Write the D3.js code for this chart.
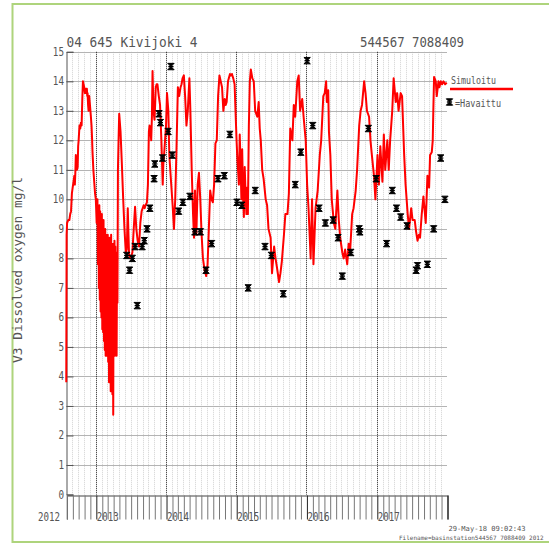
<!DOCTYPE html>
<html>
<head>
<meta charset="utf-8">
<script src="https://cdn.jsdelivr.net/npm/d3@7"></script>
<style>
  html, body { margin: 0; padding: 0; background: #fff; }
  svg { display: block; }
  text { font-family: "DejaVu Sans Mono", "Liberation Mono", monospace; fill: #555; }
</style>
</head>
<body>
<svg id="chart" width="549" height="544"></svg>
<script>
// Station header
const stationName = "04 645 Kivijoki 4";
const stationCoords = "544567 7088409";
const yTitle = "V3 Dissolved oxygen mg/l";
const stampLine = "29-May-18 09:02:43";
const fileLine = "Filename=basinstation544567 7088409 2012";
const simLabel = "Simuloitu";
const obsLabel = "=Havaittu";

// Axis ticks
const yTicks = [0,1,2,3,4,5,6,7,8,9,10,11,12,13,14,15];
const yearLabels = ["2012","2013","2014","2015","2016","2017"];

// Simulated dissolved oxygen, autumn 2012 (decimal year, mg/l)
const sim2012Year = [
  2012.580,2012.585,2012.592,2012.608,2012.624,2012.636,2012.648,2012.660,2012.671,2012.683,
  2012.695,2012.702,2012.709,2012.716,2012.723,2012.732,2012.742,2012.749,2012.756,2012.768,
  2012.779,2012.788,2012.798,2012.808,2012.817,2012.826,2012.835,2012.845,2012.852,2012.859,
  2012.866,2012.873,2012.878,2012.883,2012.890,2012.897,2012.902,2012.906,2012.913,2012.920,
  2012.930,2012.939,2012.946,2012.953,2012.965,2012.977,2012.989,2013.000,2013.012
];
const sim2012DO = [
  3.8,8.8,9.2,9.3,9.3,9.5,9.6,10.2,10.4,10.6,
  10.8,10.5,10.9,11.5,11.3,11.0,11.1,11.8,12.0,12.5,
  12.4,12.6,12.5,13.4,14.0,13.9,13.8,13.6,13.7,13.75,
  13.6,13.75,13.5,13.6,13.2,13.0,13.3,13.5,13.3,13.1,
  12.8,12.5,12.1,11.6,11.0,10.6,10.2,10.0,9.2
];

// Winter 2013, strongly fluctuating period
const simWinterYear = [
  2013.023,2013.030,2013.037,2013.043,2013.050,2013.056,2013.062,2013.068,2013.074,2013.080,
  2013.086,2013.092,2013.098,2013.104,2013.110,2013.116,2013.122,2013.128,2013.134,2013.140,
  2013.146,2013.152,2013.158,2013.164,2013.170,2013.176,2013.182,2013.188,2013.194,2013.200,
  2013.206,2013.212,2013.218,2013.224,2013.230,2013.236,2013.242,2013.248,2013.254,2013.260,
  2013.266,2013.272,2013.278,2013.284,2013.290,2013.296,2013.302,2013.308
];
const simWinterDO = [
  10.0,7.8,9.7,7.0,9.8,6.6,9.6,6.2,9.3,6.0,
  9.5,5.6,9.0,5.5,9.3,5.2,8.9,4.9,9.0,4.7,
  8.8,4.7,8.6,5.5,8.8,4.5,8.5,3.8,8.7,4.2,
  8.3,3.5,8.8,5.0,8.5,3.4,8.0,2.7,8.5,4.8,
  8.6,4.7,8.4,4.9,8.2,4.7,8.0,6.5
];

// Spring 2013 - end of 2014
const sim2014Year = [
  2013.315,2013.324,2013.333,2013.352,2013.371,2013.390,2013.408,2013.427,2013.441,2013.455,
  2013.465,2013.474,2013.493,2013.507,2013.521,2013.540,2013.559,2013.577,2013.596,2013.615,
  2013.634,2013.653,2013.667,2013.681,2013.695,2013.709,2013.728,2013.742,2013.756,2013.765,
  2013.775,2013.789,2013.799,2013.808,2013.822,2013.836,2013.845,2013.854,2013.866,2013.878,
  2013.897,2013.915,2013.934,2013.953,2013.962,2013.972,2013.986,2014.000,2014.014,2014.033,
  2014.047,2014.066,2014.080,2014.094,2014.113,2014.131,2014.150,2014.169,2014.188,2014.207,
  2014.221,2014.235,2014.254,2014.272,2014.291,2014.310,2014.333,2014.347,2014.366,2014.385,
  2014.399,2014.413,2014.432,2014.451,2014.469,2014.488,2014.507,2014.526,2014.549,2014.573,
  2014.592,2014.610,2014.629,2014.648,2014.667,2014.685,2014.704,2014.723,2014.742,2014.761,
  2014.779,2014.798,2014.817,2014.836,2014.850,2014.864,2014.883,2014.911,2014.925,2014.939,
  2014.958,2014.977,2014.990
];
const sim2014DO = [
  11.0,12.0,12.9,12.3,11.2,10.0,9.0,8.2,8.3,9.7,
  8.8,8.1,8.0,8.1,8.2,9.0,9.75,9.0,8.6,8.4,
  9.2,9.6,9.7,9.8,9.7,9.8,9.9,10.5,12.3,12.5,
  12.4,12.0,12.8,14.35,13.0,12.7,13.2,13.8,13.9,13.9,
  13.5,13.2,12.0,10.5,11.2,11.5,12.0,12.5,13.6,13.0,
  11.5,10.8,10.3,9.8,9.0,10.0,11.8,13.8,13.5,13.8,
  13.9,14.1,14.2,13.5,12.5,13.0,14.1,13.0,11.0,9.5,
  8.7,10.3,8.8,10.5,10.9,10.0,8.8,8.0,7.6,7.4,
  7.8,9.0,10.3,10.0,9.9,10.5,11.9,12.0,13.5,14.2,
  14.0,13.8,13.0,13.4,13.2,13.3,14.0,14.25,14.2,14.25,
  14.1,13.9,13.0
];

// 2015 - 2017
const sim2017Year = [
  2015.005,2015.014,2015.038,2015.050,2015.062,2015.074,2015.085,2015.097,2015.109,2015.121,
  2015.133,2015.145,2015.157,2015.166,2015.180,2015.194,2015.208,2015.230,2015.250,2015.270,
  2015.300,2015.320,2015.335,2015.350,2015.370,2015.390,2015.420,2015.440,2015.460,2015.490,
  2015.510,2015.540,2015.560,2015.580,2015.610,2015.630,2015.650,2015.680,2015.700,2015.730,
  2015.750,2015.770,2015.800,2015.820,2015.840,2015.870,2015.890,2015.910,2015.940,2015.960,
  2015.990,2016.010,2016.030,2016.060,2016.080,2016.100,2016.130,2016.160,2016.190,2016.210,
  2016.240,2016.260,2016.280,2016.290,2016.310,2016.320,2016.340,2016.360,2016.390,2016.410,
  2016.440,2016.460,2016.480,2016.510,2016.530,2016.550,2016.580,2016.600,2016.620,2016.650,
  2016.670,2016.700,2016.720,2016.750,2016.770,2016.790,2016.820,2016.840,2016.860,2016.890,
  2016.910,2016.930,2016.960,2016.980,2017.010,2017.030,2017.050,2017.080,2017.100,2017.120,
  2017.150,2017.170,2017.190,2017.220,2017.240,2017.270,2017.290,2017.310,2017.340,2017.360,
  2017.390,2017.410,2017.440,2017.460,2017.490,2017.510,2017.540,2017.560,2017.580,2017.600,
  2017.616,2017.640,2017.664,2017.697,2017.721,2017.745,2017.759,2017.783,2017.797,2017.806,
  2017.816,2017.840,2017.854,2017.878,2017.892,2017.911,2017.930,2017.949,2017.973,2017.997
];
const sim2017DO = [
  12.0,11.5,10.5,12.2,11.2,10.0,11.7,10.2,9.4,11.1,
  10.2,9.5,10.4,9.5,12.5,14.0,14.4,14.1,14.0,13.0,
  12.8,13.3,12.4,12.0,11.0,10.7,10.0,9.8,9.0,8.7,
  7.5,8.4,8.0,7.7,7.2,7.5,7.9,8.8,9.5,9.5,
  10.2,12.4,12.0,13.2,12.8,14.0,14.2,13.0,13.4,12.8,
  12.0,10.5,9.7,8.0,10.0,7.8,9.7,10.3,11.5,12.0,
  13.5,13.6,14.0,13.3,13.7,12.3,11.5,10.0,9.2,9.0,
  10.3,9.3,8.7,8.2,8.0,8.3,7.8,8.5,8.2,9.5,
  9.7,10.3,11.0,12.5,13.0,13.2,14.0,13.6,13.0,12.8,
  12.0,11.5,10.8,10.0,11.5,10.5,11.8,10.6,12.2,11.0,
  12.0,11.0,12.0,13.0,14.1,13.3,13.6,13.0,13.6,13.5,
  11.5,10.5,9.5,9.0,9.7,9.3,9.3,8.9,8.6,8.8,
  8.7,9.5,10.1,9.2,10.8,10.4,11.5,11.6,12.0,13.1,
  14.15,14.0,13.5,14.0,13.8,14.0,13.9,14.0,13.9,13.95
];

// Observed dissolved oxygen (decimal year, mg/l)
const obsYear = [
  2013.44,2013.48,2013.52,2013.59,2013.56,2013.66,2013.69,2013.73,2013.77,2013.83,2013.84,2013.90,2013.92,2013.95,
  2014.03,2014.07,2014.09,2014.18,2014.24,2014.34,2014.41,2014.49,2014.57,2014.65,2014.74,2014.83,2014.91,
  2015.01,2015.08,2015.17,2015.27,2015.41,2015.50,2015.67,2015.84,2015.92,
  2016.01,2016.09,2016.18,2016.27,2016.38,2016.45,2016.51,2016.63,2016.75,2016.76,2016.88,2016.99,
  2017.14,2017.22,2017.28,2017.34,2017.43,2017.56,2017.58,2017.72,2017.81,2017.91,2017.97
];
const obsDO = [
  8.1,7.6,8.0,6.4,8.4,8.4,8.6,9.0,9.7,10.7,11.2,12.9,12.6,11.4,
  12.3,14.5,11.5,9.6,9.9,10.1,8.9,8.9,7.6,8.5,10.7,10.8,12.2,
  9.9,9.8,7.0,10.3,8.4,8.1,6.8,10.5,11.6,
  14.7,12.5,9.7,9.2,9.3,8.7,7.4,8.2,9.0,8.9,12.4,10.7,
  8.5,10.3,9.7,9.4,9.1,7.6,7.75,7.8,9.0,11.4,10.0
];

// Decimal year -> UTC date
function toDate(yr) {
  const y = Math.floor(yr);
  const t0 = Date.UTC(y, 0, 1), t1 = Date.UTC(y + 1, 0, 1);
  return new Date(t0 + (yr - y) * (t1 - t0));
}

const svg = d3.select("#chart");

const x = d3.scaleUtc()
  .domain([new Date(Date.UTC(2012, 7, 1)), new Date(Date.UTC(2018, 0, 1))])
  .range([66.4, 447]);
const y = d3.scaleLinear().domain([0, 15]).range([494.5, 51.8]);

// Page frame
svg.append("rect")
  .attr("x", 12.5).attr("y", 4).attr("width", 560).attr("height", 538)
  .attr("fill", "none").attr("stroke", "#aed47c").attr("stroke-width", 2);

// Monthly grid
const months = d3.utcMonth.range(x.domain()[0], d3.utcDay.offset(x.domain()[1], 1));
const years = months.filter(d => d.getUTCMonth() === 0);
const gridG = svg.append("g");
gridG.selectAll("line.m").data(months.filter(d => d.getUTCMonth() !== 0 && +d !== +x.domain()[0]))
  .join("line")
  .attr("x1", d => Math.round(x(d)) + 0.5).attr("x2", d => Math.round(x(d)) + 0.5)
  .attr("y1", y(15)).attr("y2", y(0))
  .attr("stroke", "#d2d2d2").attr("stroke-width", 1).attr("stroke-dasharray", "1,1");

// Horizontal grid
gridG.selectAll("line.h").data(yTicks.filter(v => v > 0))
  .join("line")
  .attr("x1", x.range()[0]).attr("x2", x.range()[1])
  .attr("y1", d => Math.round(y(d)) + 0.5).attr("y2", d => Math.round(y(d)) + 0.5)
  .attr("stroke", "#b4b4b4").attr("stroke-width", 1);

// Year lines
gridG.selectAll("line.y").data(years.filter(d => +d < +x.domain()[1]))
  .join("line")
  .attr("x1", d => Math.round(x(d)) + 0.5).attr("x2", d => Math.round(x(d)) + 0.5)
  .attr("y1", y(15)).attr("y2", y(0))
  .attr("stroke", "#222").attr("stroke-width", 1).attr("stroke-dasharray", "1,1");

// Y axis
const yAxis = d3.axisRight(y).tickValues(yTicks).tickSize(7).tickFormat("");
const yg = svg.append("g").attr("transform", `translate(${Math.round(x.range()[0]) + 0.5},0)`).call(yAxis);
yg.select(".domain").attr("stroke", "#555");
yg.selectAll(".tick line").attr("stroke", "#555");
svg.append("g").selectAll("text").data(yTicks).join("text")
  .attr("x", 64).attr("y", d => y(d) + 4)
  .attr("text-anchor", "end").attr("font-size", 12.5)
  .attr("textLength", d => String(d).length * 5.6).attr("lengthAdjust", "spacingAndGlyphs")
  .text(d => d);

// X axis with monthly ticks hanging below
const xAxis = d3.axisBottom(x).tickValues(months).tickSize(24).tickFormat("");
const xg = svg.append("g").attr("transform", `translate(0.5,${Math.round(y(0)) + 0.5})`).call(xAxis);
xg.select(".domain").attr("stroke", "#444").attr("stroke-width", 1.2);
xg.selectAll(".tick line").attr("stroke", d => d.getUTCMonth() === 0 ? "#222" : "#777");

// Year labels
svg.append("g").selectAll("text").data(yearLabels).join("text")
  .attr("x", (d, i) => i === 0 ? 60 : x(new Date(Date.UTC(+d, 0, 1))) + 1)
  .attr("y", 521)
  .attr("text-anchor", (d, i) => i === 0 ? "end" : "start")
  .attr("font-size", 12.5)
  .attr("textLength", 22).attr("lengthAdjust", "spacingAndGlyphs")
  .text(d => d);

// Simulated series
const simYear = [...sim2012Year, ...simWinterYear, ...sim2014Year, ...sim2017Year];
const simDO = [...sim2012DO, ...simWinterDO, ...sim2014DO, ...sim2017DO];
const simData = simYear.map((t, i) => ({ t: toDate(t), v: simDO[i] }));
svg.append("path").datum(simData)
  .attr("fill", "none").attr("stroke", "#ff0000").attr("stroke-width", 2)
  .attr("stroke-linejoin", "round")
  .attr("d", d3.line().defined(d => d.v != null).x(d => x(d.t)).y(d => y(d.v)));

// Observation marker
const markerPath = "M-3.2,-3.2L3.2,-3.2L-3.2,3.2L3.2,3.2Z";
function drawMarker(g) {
  g.append("path").attr("d", markerPath).attr("fill", "#000").attr("stroke", "#000").attr("stroke-width", 1);
  g.append("path").attr("d", "M-2.6,0H2.6").attr("stroke", "#000").attr("stroke-width", 1.4);
}
const obsData = obsYear.map((t, i) => ({ t: toDate(t), v: obsDO[i] }));
svg.append("g").selectAll("g").data(obsData).join("g")
  .attr("transform", d => `translate(${x(d.t)},${y(d.v)})`)
  .each(function () { drawMarker(d3.select(this)); });

// Titles
svg.append("text").attr("x", 66.5).attr("y", 46.5).attr("font-size", 13.5)
  .attr("textLength", 131).attr("lengthAdjust", "spacingAndGlyphs").text(stationName);
svg.append("text").attr("x", 360).attr("y", 46.5).attr("font-size", 13.5)
  .attr("textLength", 104).attr("lengthAdjust", "spacingAndGlyphs").text(stationCoords);

// Y title
svg.append("text").attr("transform", "translate(22,363) rotate(-90)")
  .attr("font-size", 12.5).attr("textLength", 186).attr("lengthAdjust", "spacingAndGlyphs")
  .text(yTitle);

// Legend
svg.append("text").attr("x", 451).attr("y", 84).attr("font-size", 11)
  .attr("textLength", 45).attr("lengthAdjust", "spacingAndGlyphs").text(simLabel);
svg.append("line").attr("x1", 450).attr("x2", 513).attr("y1", 89).attr("y2", 89)
  .attr("stroke", "#ff0000").attr("stroke-width", 2.5);
const lg = svg.append("g").attr("transform", "translate(449.5,102)");
drawMarker(lg);
svg.append("text").attr("x", 455).attr("y", 107).attr("font-size", 11)
  .attr("textLength", 46).attr("lengthAdjust", "spacingAndGlyphs").text(obsLabel);

// Footer stamp
svg.append("text").attr("x", 448.5).attr("y", 530.5).attr("font-size", 7)
  .attr("textLength", 77).attr("lengthAdjust", "spacingAndGlyphs").text(stampLine);
svg.append("text").attr("x", 399).attr("y", 539.5).attr("font-size", 6)
  .text(fileLine);
</script>
</body>
</html>
